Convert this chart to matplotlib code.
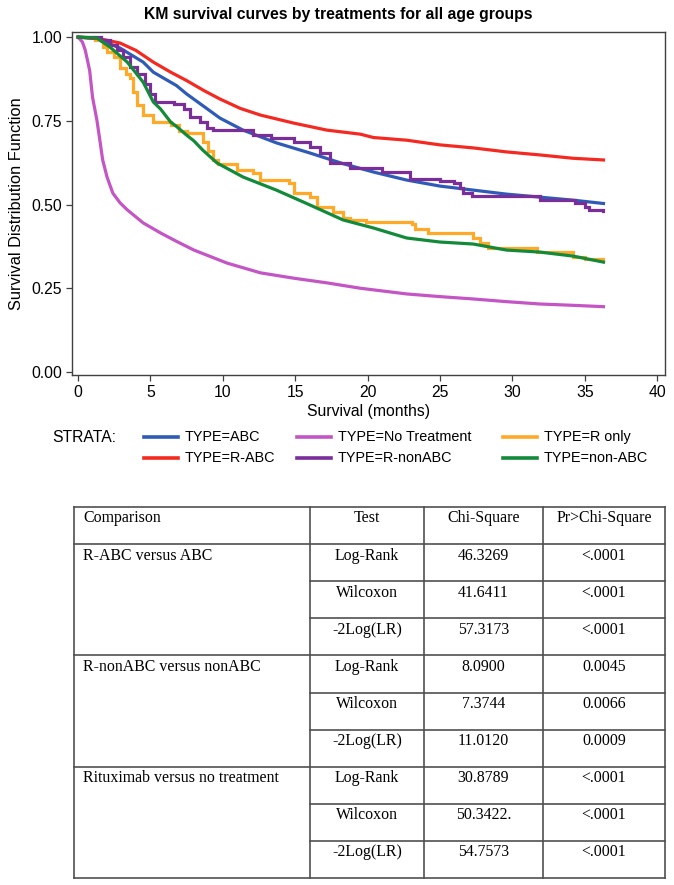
import matplotlib
matplotlib.use("Agg")
import matplotlib.pyplot as plt
from matplotlib.lines import Line2D

# ---- KM curve readings (months, survival) ----
abc_t = [0, 1.2, 2.4, 2.9, 4.5, 5.2, 6.8, 7.5, 9.1, 9.8, 11.4, 13.7, 16, 18.3, 20.4, 22.7, 25, 27.3, 29.6, 31.9, 34.2, 36.3]
abc_s = [1.0, 0.995, 0.976, 0.967, 0.925, 0.895, 0.855, 0.83, 0.78, 0.758, 0.722, 0.684, 0.654, 0.622, 0.597, 0.573, 0.555, 0.543, 0.531, 0.522, 0.513, 0.503]

notrt_t = [0, 0.3, 0.5, 0.8, 1.0, 1.3, 1.5, 1.7, 2.0, 2.4, 2.9, 3.4, 4.5, 5.7, 6.8, 8.0, 10.3, 12.6, 14.9, 17.2, 19.5, 22.7, 25, 27.3, 29.6, 31.9, 34.2, 36.3]
notrt_s = [1.0, 0.985, 0.96, 0.90, 0.82, 0.752, 0.693, 0.633, 0.582, 0.534, 0.505, 0.484, 0.445, 0.415, 0.39, 0.364, 0.325, 0.296, 0.28, 0.266, 0.25, 0.233, 0.225, 0.218, 0.21, 0.203, 0.199, 0.195]

ronly_t = [0, 1.2, 1.7, 2.0, 2.5, 2.9, 3.3, 3.6, 3.8, 4.1, 4.5, 5.2, 6.4, 7.0, 7.5, 8.6, 9.0, 9.3, 9.7, 11.0, 12.1, 12.6, 14.6, 14.9, 16.0, 16.5, 17.6, 18.3, 18.8, 19.9, 23.1, 23.3, 24.2, 27.3, 27.8, 28.3, 31.7, 34.2, 35.0, 36.3]
ronly_s = [1.0, 0.99, 0.97, 0.956, 0.94, 0.907, 0.89, 0.878, 0.836, 0.797, 0.767, 0.746, 0.737, 0.72, 0.712, 0.687, 0.66, 0.633, 0.62, 0.603, 0.594, 0.573, 0.564, 0.534, 0.522, 0.493, 0.478, 0.46, 0.454, 0.448, 0.442, 0.427, 0.415, 0.40, 0.385, 0.37, 0.358, 0.343, 0.338, 0.337]

rabc_t = [0, 1.5, 2.9, 4.0, 5.2, 6.4, 7.5, 8.7, 9.8, 11.2, 12.6, 14.9, 17.2, 19.5, 20.4, 22.7, 25, 27.3, 29.6, 31.9, 34.2, 36.3]
rabc_s = [1.0, 0.995, 0.982, 0.96, 0.925, 0.895, 0.87, 0.84, 0.815, 0.787, 0.767, 0.743, 0.722, 0.71, 0.70, 0.692, 0.678, 0.669, 0.657, 0.648, 0.638, 0.633]

rnon_t = [0, 1.6, 2.2, 2.7, 3.1, 3.6, 4.1, 4.6, 5.0, 5.3, 6.6, 7.3, 7.7, 8.4, 8.9, 9.3, 12.1, 13.3, 14.9, 16.0, 16.7, 17.4, 18.8, 21.0, 22.9, 25.0, 26.0, 26.4, 26.6, 27.2, 31.9, 34.3, 35.0, 35.3, 36.3]
rnon_s = [1.0, 0.99, 0.975, 0.96, 0.94, 0.91, 0.89, 0.86, 0.83, 0.806, 0.80, 0.785, 0.76, 0.745, 0.728, 0.722, 0.707, 0.698, 0.687, 0.672, 0.654, 0.624, 0.609, 0.597, 0.576, 0.570, 0.564, 0.549, 0.534, 0.525, 0.513, 0.504, 0.493, 0.484, 0.48]

nonabc_t = [0, 1.3, 2.2, 3.4, 4.1, 4.5, 5.2, 5.7, 6.4, 6.8, 7.5, 8.0, 8.6, 9.6, 11.4, 13.7, 16.0, 18.3, 20.4, 22.7, 25.0, 27.3, 29.6, 31.9, 34.2, 36.3]
nonabc_s = [1.0, 0.997, 0.97, 0.925, 0.887, 0.865, 0.806, 0.785, 0.746, 0.733, 0.707, 0.69, 0.663, 0.624, 0.582, 0.543, 0.499, 0.454, 0.43, 0.40, 0.388, 0.382, 0.364, 0.358, 0.346, 0.328]

labels = ["TYPE=ABC", "TYPE=No Treatment", "TYPE=R only", "TYPE=R-ABC", "TYPE=R-nonABC", "TYPE=non-ABC"]
colors = ["#2F5BB7", "#C455C4", "#FFA928", "#F42A22", "#7A2E9A", "#138A3A"]
stepped = [False, False, True, False, True, False]
curves = [(abc_t, abc_s), (notrt_t, notrt_s), (ronly_t, ronly_s),
          (rabc_t, rabc_s), (rnon_t, rnon_s), (nonabc_t, nonabc_s)]

# ---- log-rank table ----
comparisons = ["R-ABC versus ABC", "R-nonABC versus nonABC", "Rituximab versus no treatment"]
tests = ["Log-Rank", "Wilcoxon", "-2Log(LR)"]
chi_sq = ["46.3269", "41.6411", "57.3173", "8.0900", "7.3744", "11.0120", "30.8789", "50.3422.", "54.7573"]
p_vals = ["<.0001", "<.0001", "<.0001", "0.0045", "0.0066", "0.0009", "<.0001", "<.0001", "<.0001"]
headers = ["Comparison", "Test", "Chi-Square", "Pr>Chi-Square"]

W, H = 674, 885
def fx(x):
    return x / W
def fy(y):
    return 1 - y / H

sans = ["Liberation Sans", "DejaVu Sans"]
serif = ["Liberation Serif", "DejaVu Serif"]

fig = plt.figure(figsize=(W / 100, H / 100), dpi=100)

ax = fig.add_axes([fx(72), fy(375), fx(665) - fx(72), fy(32) - fy(375)])
for (t, s), c, st in zip(curves, colors, stepped):
    ax.plot(t, s, color=c, lw=2.3, drawstyle="steps-post" if st else "default",
            solid_joinstyle="miter")

ax.set_xlim(-0.42, 40.55)
ax.set_ylim(-0.009, 1.015)
ax.set_xticks(range(0, 41, 5))
ax.set_yticks([0, 0.25, 0.5, 0.75, 1.0])
ax.set_yticklabels(["0.00", "0.25", "0.50", "0.75", "1.00"])
for sp in ax.spines.values():
    sp.set_color("#404040")
    sp.set_linewidth(1.0)
ax.tick_params(direction="out", length=4, width=0.9, color="#404040", pad=3,
               labelsize=11.3)
for lab in ax.get_xticklabels() + ax.get_yticklabels():
    lab.set_family(sans)
ax.set_xlabel("Survival (months)", fontsize=11.3, family=sans, labelpad=3)
ax.set_ylabel("Survival Distribution Function", fontsize=11.8, family=sans, labelpad=5)
fig.text(fx(338), fy(14), "KM survival curves by treatments for all age groups",
         ha="center", va="center", fontsize=11.3, fontweight="bold", family=sans)

# legend drawn by hand in the SAS layout
fig.text(fx(52), fy(437), "STRATA:", ha="left", va="center", fontsize=11.3, family=sans)
col_x = [144, 297, 503]
row_y = [437, 458]
for i, (lab, c) in enumerate(zip(labels, colors)):
    r, k = divmod(i, 3) if False else (i // 3, i % 3)
    x0 = col_x[k]
    y0 = row_y[r]
    fig.add_artist(Line2D([fx(x0), fx(x0 + 34)], [fy(y0), fy(y0)], color=c, lw=2.6))
    fig.text(fx(x0 + 41), fy(y0), lab, ha="left", va="center", fontsize=10.4, family=sans)

# table
tax = fig.add_axes([0, 0, 1, 1])
tax.set_xlim(0, W)
tax.set_ylim(H, 0)
tax.axis("off")
cx = [74, 310, 424, 543, 665]
top, rh = 507, 37.1
nrows = 1 + len(chi_sq)
bottom = top + nrows * rh
lc, lw = "#505050", 1.2
for x in cx:
    tax.plot([x, x], [top, bottom], color=lc, lw=lw)
for i in range(nrows + 1):
    y = top + i * rh
    if i == 0 or i == nrows or (i - 1) % 3 == 0:
        tax.plot([cx[0], cx[-1]], [y, y], color=lc, lw=lw)
    else:
        tax.plot([cx[1], cx[-1]], [y, y], color=lc, lw=lw)

fs = 11.4
tax.text(cx[0] + 9, top + 15.5, headers[0], ha="left", va="baseline", fontsize=fs, family=serif)
for j in range(1, 4):
    tax.text((cx[j] + cx[j + 1]) / 2, top + 15.5, headers[j], ha="center",
             va="baseline", fontsize=fs, family=serif)
for g, name in enumerate(comparisons):
    tax.text(cx[0] + 9, top + (1 + 3 * g) * rh + 15.5, name, ha="left",
             va="baseline", fontsize=fs, family=serif)
for i in range(len(chi_sq)):
    y = top + (1 + i) * rh + 15.5
    tax.text((cx[1] + cx[2]) / 2, y, tests[i % 3], ha="center", va="baseline", fontsize=fs, family=serif)
    tax.text((cx[2] + cx[3]) / 2, y, chi_sq[i], ha="center", va="baseline", fontsize=fs, family=serif)
    tax.text((cx[3] + cx[4]) / 2, y, p_vals[i], ha="center", va="baseline", fontsize=fs, family=serif)

fig.savefig("out.png", dpi=100)
